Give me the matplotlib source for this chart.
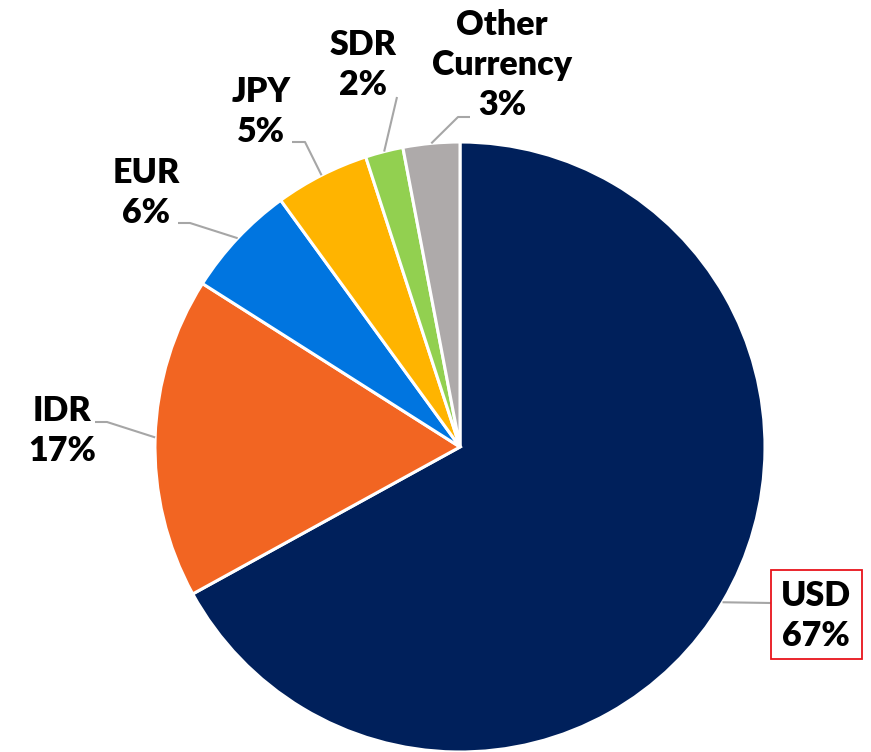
import numpy as np
import matplotlib.pyplot as plt
from matplotlib.patches import Rectangle

# Currency composition (share, %)
currencies = ["USD", "IDR", "EUR", "JPY", "SDR", "Other\nCurrency"]
shares = [67, 17, 6, 5, 2, 3]
colors = ["#00205B", "#F26522", "#0075E0", "#FFB400", "#92D050", "#AEAAAA"]

W, H = 871, 752
fig = plt.figure(figsize=(W / 100, H / 100), dpi=100)
ax = fig.add_axes([0, 0, 1, 1])

cx, cy, r = 460, H - 447, 305
wedges, _ = ax.pie(
    shares, colors=colors, startangle=90, counterclock=False,
    center=(cx, cy), radius=r, frame=True,
    wedgeprops=dict(edgecolor="white", linewidth=2.2),
)
ax.set_xlim(0, W)
ax.set_ylim(0, H)
ax.set_aspect("equal")
ax.axis("off")

# label placement: (text centre x, text centre y, elbow x, elbow y, line end x, line end y)
layout = [
    (816, 616, 771, 603, 771, 603),
    (62, 431, 107, 422, 95, 422),
    (146, 193, 190, 223, 178, 223),
    (261, 112, 305, 142, 292, 142),
    (363, 65, 397, 97, 397, 97),
    (502, 65, 458, 117, 470, 117),
]

for w, name, val, (tx, ty, ex, ey, lx, ly) in zip(wedges, currencies, shares, layout):
    ang = np.deg2rad((w.theta1 + w.theta2) / 2)
    px, py = cx + r * np.cos(ang), cy + r * np.sin(ang)
    ax.plot([px, ex, lx], [py, H - ey, H - ly], color="#A6A6A6", lw=1.5,
            solid_capstyle="butt", zorder=1)
    ax.text(tx, H - ty, f"{name}\n{val}%", ha="center", va="center",
            fontsize=24.5, fontweight="heavy", family="Lato", color="black",
            linespacing=1.3)

ax.add_patch(Rectangle((771, H - 659), 91, 89, fill=False,
                       edgecolor="#E8141B", lw=1.3, zorder=3))

fig.savefig("out.png", dpi=100)
